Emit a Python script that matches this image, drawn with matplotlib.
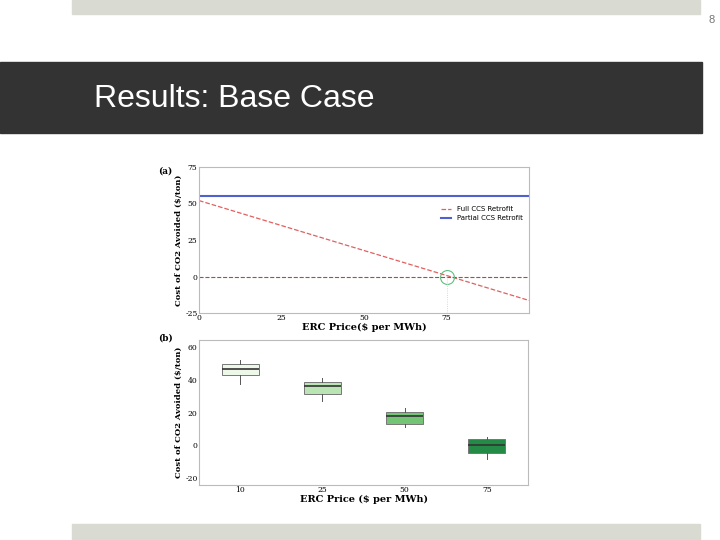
import matplotlib.pyplot as plt
import numpy as np

# panel (a): cost of CO2 avoided vs ERC price
erc_line = [0, 100]
full_ccs = [52, -16.4]
partial_ccs = [55, 55]

# panel (b): box plot stats per ERC price
box_labels = ['10', '25', '50', '75']
box_q1 = [43, 31.5, 13, -4.5]
box_med = [46.5, 36, 18, 0.5]
box_q3 = [49.5, 38.5, 20.5, 4]
box_lo = [37, 27, 11, -8]
box_hi = [52, 41, 23, 5]
box_colors = ['#edf8e9', '#bae4b3', '#74c476', '#238b45']

fig = plt.figure(figsize=(7.2, 5.4), dpi=100)
W, H = 720, 540

def rect(x0, y0, x1, y1, color):
    fig.patches.append(plt.Rectangle((x0 / W, 1 - y1 / H), (x1 - x0) / W, (y1 - y0) / H,
                                     transform=fig.transFigure, color=color, zorder=0))

# slide decoration
rect(72, 0, 700, 14, '#d9dbd3')
rect(0, 62, 702, 133, '#333333')
rect(72, 524, 700, 540, '#d9dbd3')
fig.text(712 / W, 1 - 20 / H, '8', fontsize=8, color='#777777', ha='center', va='center',
         family='Liberation Sans')
fig.text(94 / W, 1 - 99 / H, 'Results: Base Case', fontsize=23, color='white', va='center',
         family='Liberation Sans')

serif = 'DejaVu Serif'

# panel (a)
ax1 = fig.add_axes([199 / W, 1 - 313 / H, 330 / W, 146 / H])
ax1.plot(erc_line, full_ccs, color='#e06060', lw=0.9, ls='--', label='Full CCS Retrofit')
ax1.plot(erc_line, partial_ccs, color='#5060d0', lw=1.5, label='Partial CCS Retrofit')
ax1.axhline(0, color='#a05050', lw=0.8, ls='--')
ax1.plot([75], [0], 'o', ms=10, mfc='none', mec='#60c080', mew=0.8)
ax1.plot([75, 75], [-25, 0], color='#cccccc', lw=0.6, ls=':')
ax1.set_xlim(0, 100)
ax1.set_ylim(-25, 75)
ax1.set_xticks([0, 25, 50, 75])
ax1.set_yticks([-25, 0, 25, 50, 75])
ax1.set_yticklabels(['-25', '0', '25', '50', '75'])
ax1.tick_params(labelsize=5.5, length=0, pad=1)
for t in ax1.get_xticklabels() + ax1.get_yticklabels():
    t.set_family(serif)
ax1.set_xlabel('ERC Price($ per MWh)', fontsize=7, fontweight='bold', family=serif, labelpad=0)
ax1.set_ylabel('Cost of CO2 Avoided ($/ton)', fontsize=6, fontweight='bold', family=serif, labelpad=2)
ax1.legend(loc='center right', bbox_to_anchor=(1.0, 0.68), fontsize=5, frameon=False, handlelength=1.5)
for s in ax1.spines.values():
    s.set_color('#bbbbbb')
fig.text(158 / W, 1 - 174 / H, '(a)', fontsize=6.5, fontweight='bold', family=serif)

# panel (b)
ax2 = fig.add_axes([199 / W, 1 - 485 / H, 329 / W, 145 / H])
stats = []
for i in range(len(box_labels)):
    stats.append(dict(med=box_med[i], q1=box_q1[i], q3=box_q3[i],
                      whislo=box_lo[i], whishi=box_hi[i], label=box_labels[i]))
bp = ax2.bxp(stats, showfliers=False, patch_artist=True, widths=0.45,
             medianprops=dict(color='#333333', lw=1.2),
             whiskerprops=dict(color='#555555', lw=0.7),
             capprops=dict(lw=0), boxprops=dict(color='#777777', lw=0.7))
for patch, c in zip(bp['boxes'], box_colors):
    patch.set_facecolor(c)
ax2.set_ylim(-24, 64)
ax2.set_yticks([-20, 0, 20, 40, 60])
ax2.set_yticklabels(['-20', '0', '20', '40', '60'])
ax2.tick_params(labelsize=5.5, length=0, pad=1)
for t in ax2.get_xticklabels() + ax2.get_yticklabels():
    t.set_family(serif)
ax2.set_xlabel('ERC Price ($ per MWh)', fontsize=7, fontweight='bold', family=serif, labelpad=0)
ax2.set_ylabel('Cost of CO2 Avoided ($/ton)', fontsize=6, fontweight='bold', family=serif, labelpad=2)
for s in ax2.spines.values():
    s.set_color('#bbbbbb')
fig.text(158 / W, 1 - 341 / H, '(b)', fontsize=6.5, fontweight='bold', family=serif)

fig.savefig('out.png', dpi=100)
